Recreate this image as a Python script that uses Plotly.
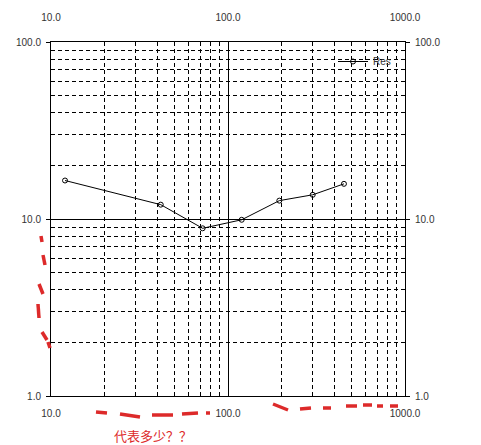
import plotly.graph_objects as go

# data
freq = [12.0, 41.7, 71.9, 119.5, 195.0, 301.0, 452.0]
res = [16.5, 12.05, 8.86, 9.9, 12.7, 13.7, 15.8]
series_name = "Res"

x_ticks = [10, 100, 1000]
y_ticks = [1, 10, 100]
x_minor = [m * d for d in (10, 100) for m in range(2, 10)]
y_minor = [m * d for d in (1, 10) for m in range(2, 10)]
note_text = "代表多少？？"

# page body has an 8px margin, so the figure is drawn a bit smaller
OFF = 8
W, H = 481 - OFF, 445 - OFF
L, R, T, B = 51, 405, 42, 396  # plot area in screenshot pixels


def px(x, y):
    return (x - L) / (R - L), (B - y) / (B - T)


fig = go.Figure()
fig.add_trace(go.Scatter(
    x=freq, y=res, name=series_name, mode="lines+markers",
    line=dict(color="black", width=1),
    marker=dict(symbol="circle-open", size=5, color="black", line=dict(width=1)),
))
# invisible trace to carry the top / right axes
fig.add_trace(go.Scatter(x=freq, y=res, xaxis="x2", yaxis="y2", mode="none",
                         showlegend=False, hoverinfo="skip"))

tick_font = dict(family="Liberation Sans, Arial", size=10, color="#333333")
minor_x = dict(tickvals=x_minor, showgrid=True, gridcolor="black", gridwidth=1,
               griddash="4px,3px", ticks="")
minor_y = dict(tickvals=y_minor, showgrid=True, gridcolor="black", gridwidth=1,
               griddash="4px,3px", ticks="")

common_x = dict(type="log", range=[1, 3], tickvals=x_ticks,
                ticktext=[f"{v:.1f}" for v in x_ticks], tickfont=tick_font,
                showline=True, linecolor="black", linewidth=1, zeroline=False,
                automargin=False)
common_y = dict(type="log", range=[0, 2], tickvals=y_ticks,
                ticktext=[f"{v:.1f}" for v in y_ticks], tickfont=tick_font,
                showline=True, linecolor="black", linewidth=1, zeroline=False,
                ticks="outside", ticklen=4, tickcolor="black", automargin=False)

fig.update_layout(
    width=W, height=H, autosize=False,
    margin=dict(l=L - OFF, r=W - (R - OFF), t=T - OFF, b=H - (B - OFF)),
    plot_bgcolor="white", paper_bgcolor="white",
    xaxis=dict(**common_x, showgrid=True, gridcolor="black", gridwidth=1,
               minor=minor_x, ticks="", ticklabelstandoff=8, mirror=True),
    xaxis2=dict(**common_x, overlaying="x", side="top", showgrid=False,
                ticks="", ticklabelstandoff=16),
    yaxis=dict(**common_y, showgrid=True, gridcolor="black", gridwidth=1,
               minor=minor_y, ticklabelstandoff=3, mirror=True),
    yaxis2=dict(**common_y, overlaying="y", side="right", showgrid=False,
                ticklabelstandoff=3),
    legend=dict(x=px(396, 0)[0], y=px(0, 47)[1], xanchor="right", yanchor="top",
                bgcolor="rgba(0,0,0,0)", itemwidth=30,
                font=dict(family="Liberation Sans, Arial", size=10, color="#333333")),
    showlegend=True,
)

# red hand-drawn marks
red = "#dd2a2a"
strokes = [
    [(41, 236), (42, 242)], [(43, 255), (45, 265)], [(39, 284), (43, 294)],
    [(38, 304), (39, 318)], [(42, 332), (47, 340)], [(48, 342), (50, 348)],
    [(96, 412), (107, 413)], [(120, 414), (140, 417)], [(152, 415), (173, 415)],
    [(182, 414), (198, 413)], [(206, 413), (210, 413)],
    [(273, 404), (288, 410)], [(300, 409), (311, 408)], [(323, 408), (331, 408)],
    [(346, 406), (357, 406)], [(363, 405), (372, 405)], [(377, 406), (383, 406)],
    [(390, 406), (398, 406)],
]
for (x0, y0), (x1, y1) in strokes:
    a0, b0 = px(x0, y0)
    a1, b1 = px(x1, y1)
    fig.add_shape(type="line", xref="paper", yref="paper", x0=a0, y0=b0, x1=a1, y1=b1,
                  line=dict(color=red, width=3.5))

nx, ny = px(153, 435)
fig.add_annotation(text=note_text, xref="paper", yref="paper", x=nx, y=ny,
                   showarrow=False, xanchor="center", yanchor="middle",
                   font=dict(family="Noto Sans CJK SC", size=13, color=red))

fig.write_html("out.html")
